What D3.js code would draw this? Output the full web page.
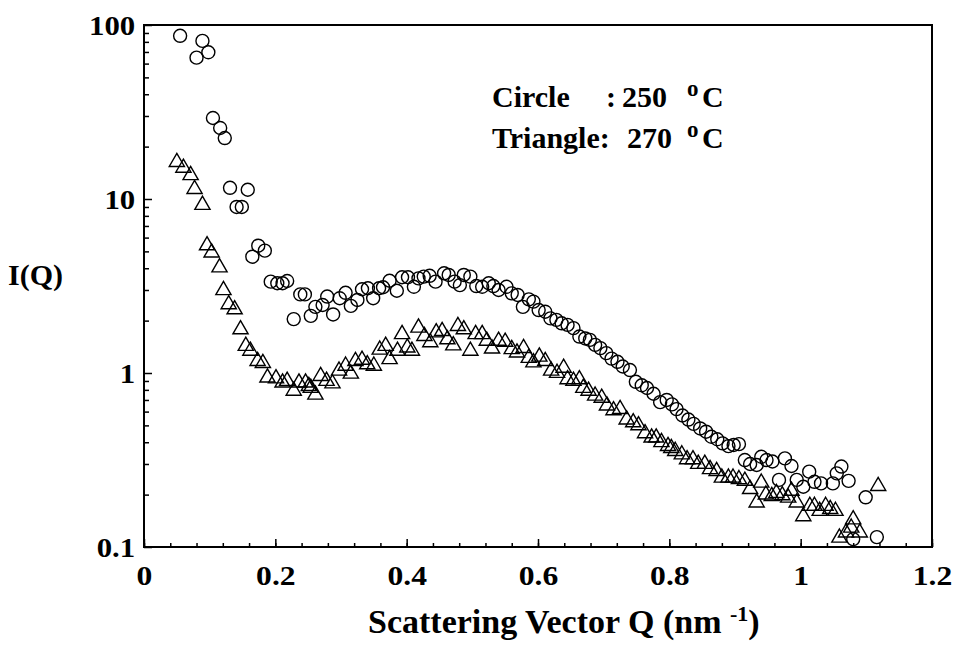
<!DOCTYPE html>
<html>
<head>
<meta charset="utf-8">
<script src="https://cdn.jsdelivr.net/npm/d3@7"></script>
<style>
  html, body { margin: 0; padding: 0; background: #fff; }
  svg { display: block; }
  text { font-family: "Liberation Serif", "Times New Roman", serif; font-weight: bold; fill: #000; }
</style>
</head>
<body>
<svg id="chart" width="953" height="646"></svg>
<script>
// Scattering intensity I(Q) at 250 °C (circles)
const circleQ = [0.055,0.080,0.089,0.098,0.105,0.116,0.123,0.131,0.141,0.149,0.158,0.165,0.174,0.184,0.193,0.203,0.211,0.218,0.228,0.238,0.245,0.254,0.261,0.272,0.279,0.288,0.298,0.307,0.315,0.325,0.332,0.341,0.349,0.358,0.364,0.374,0.385,0.393,0.402,0.411,0.418,0.426,0.435,0.444,0.457,0.464,0.473,0.481,0.487,0.497,0.506,0.515,0.525,0.532,0.540,0.552,0.560,0.569,0.577,0.586,0.593,0.601,0.611,0.619,0.628,0.636,0.645,0.654,0.663,0.672,0.679,0.687,0.695,0.704,0.712,0.721,0.729,0.740,0.749,0.758,0.766,0.776,0.786,0.796,0.804,0.811,0.820,0.829,0.837,0.847,0.856,0.864,0.873,0.881,0.890,0.898,0.906,0.915,0.923,0.933,0.940,0.948,0.957,0.967,0.976,0.986,0.994,1.004,1.013,1.021,1.031,1.049,1.055,1.062,1.073,1.080,1.099,1.116];
const circleI = [86.7,64.9,81,69.7,29.2,25.6,22.4,11.6,9.0,9.0,11.3,4.66,5.39,5.05,3.35,3.28,3.28,3.38,2.04,2.83,2.83,2.13,2.40,2.46,2.75,2.17,2.69,2.89,2.43,2.63,3.03,3.07,2.69,3.07,3.11,3.39,2.97,3.55,3.55,3.13,3.50,3.58,3.62,3.35,3.74,3.66,3.35,3.20,3.66,3.58,3.16,3.13,3.28,3.16,3.0,3.13,2.87,2.81,2.40,2.65,2.57,2.30,2.25,2.06,2.02,1.93,1.89,1.81,1.62,1.58,1.55,1.45,1.39,1.30,1.21,1.16,1.09,1.04,0.89,0.85,0.82,0.76,0.68,0.70,0.66,0.62,0.57,0.54,0.51,0.48,0.46,0.43,0.416,0.394,0.38,0.386,0.39,0.316,0.30,0.296,0.33,0.316,0.31,0.243,0.323,0.292,0.243,0.222,0.271,0.237,0.232,0.232,0.265,0.29,0.24,0.111,0.193,0.114];

// Scattering intensity I(Q) at 270 °C (triangles)
const triangleQ = [0.050,0.060,0.071,0.077,0.089,0.096,0.103,0.115,0.121,0.129,0.138,0.147,0.155,0.162,0.173,0.181,0.188,0.201,0.211,0.218,0.228,0.236,0.246,0.251,0.254,0.261,0.269,0.278,0.287,0.297,0.307,0.315,0.322,0.332,0.340,0.350,0.359,0.368,0.374,0.386,0.393,0.401,0.408,0.418,0.427,0.436,0.445,0.454,0.462,0.471,0.478,0.487,0.497,0.505,0.515,0.522,0.530,0.540,0.550,0.560,0.568,0.578,0.586,0.593,0.602,0.611,0.620,0.629,0.639,0.645,0.654,0.663,0.669,0.677,0.687,0.697,0.705,0.715,0.725,0.735,0.745,0.753,0.763,0.773,0.780,0.788,0.798,0.803,0.809,0.819,0.827,0.836,0.844,0.854,0.862,0.872,0.880,0.890,0.897,0.906,0.915,0.923,0.933,0.940,0.947,0.956,0.963,0.972,0.981,0.986,0.994,1.004,1.014,1.021,1.029,1.038,1.045,1.053,1.059,1.069,1.077,1.080,1.090,1.118];
const triangleI = [16.3,15.1,13.7,11.4,9.24,5.41,4.92,4.04,2.99,2.48,2.32,1.78,1.43,1.34,1.17,1.14,0.94,0.93,0.88,0.90,0.79,0.88,0.88,0.84,0.82,0.75,0.96,0.90,0.87,1.03,1.10,0.99,1.17,1.19,1.12,1.10,1.36,1.43,1.20,1.34,1.67,1.40,1.34,1.82,1.63,1.50,1.71,1.74,1.56,1.44,1.86,1.78,1.34,1.67,1.67,1.53,1.38,1.53,1.51,1.37,1.31,1.39,1.22,1.15,1.24,1.17,1.03,1.00,1.07,0.92,0.90,0.92,0.82,0.79,0.74,0.72,0.65,0.61,0.62,0.54,0.52,0.50,0.45,0.425,0.425,0.40,0.38,0.37,0.356,0.34,0.319,0.319,0.30,0.30,0.28,0.273,0.25,0.25,0.25,0.245,0.24,0.215,0.18,0.234,0.20,0.196,0.204,0.198,0.192,0.21,0.18,0.15,0.172,0.172,0.161,0.172,0.165,0.161,0.113,0.121,0.129,0.144,0.121,0.224];

// Axis ticks
const xTicks = [0, 0.2, 0.4, 0.6, 0.8, 1, 1.2];
const xTickLabels = ["0", "0.2", "0.4", "0.6", "0.8", "1", "1.2"];
const yTicks = [0.1, 1, 10, 100];
const yTickLabels = ["0.1", "1", "10", "100"];

// Legend entries
const legendNames = ["Circle", "Triangle:"];
const legendSeparators = [":", ""];
const legendTemps = ["250", "270"];

const svg = d3.select("#chart");
const plot = { left: 144, right: 932, top: 25, bottom: 547 };

const x = d3.scaleLinear().domain([0, 1.2]).range([plot.left, plot.right]);
const y = d3.scaleLog().domain([0.1, 100]).range([plot.bottom, plot.top]);

// Minor tick positions
const xMinor = d3.range(0, 1.2001, 0.04).map(v => +v.toFixed(2));
const yMinor = [];
[0.1, 1, 10].forEach(d => { for (let k = 2; k <= 9; k++) yMinor.push(d * k); });

// Bottom axis: major ticks pointing in, labels below
const xAxis = svg.append("g").attr("transform", `translate(0,${plot.bottom})`)
  .call(d3.axisBottom(x).tickValues(xTicks).tickSize(-8).tickPadding(30)
    .tickFormat((d, i) => xTickLabels[i]));
svg.append("g").attr("transform", `translate(0,${plot.bottom})`)
  .call(d3.axisBottom(x).tickValues(xMinor).tickSize(-4).tickFormat(""));

// Left axis
const yAxis = svg.append("g").attr("transform", `translate(${plot.left},0)`)
  .call(d3.axisLeft(y).tickValues(yTicks).tickSize(-8).tickPadding(8)
    .tickFormat(d => yTickLabels[yTicks.indexOf(d)]));
svg.append("g").attr("transform", `translate(${plot.left},0)`)
  .call(d3.axisLeft(y).tickValues(yMinor).tickSize(-5).tickFormat(""));

svg.selectAll(".domain").remove();
svg.selectAll(".tick line").attr("stroke", "#000").attr("stroke-width", 1.5);

xAxis.selectAll("text")
  .style("font-size", "28px")
  .attr("dy", "0.28em")
  .attr("transform", "scale(1.13,1)");
yAxis.selectAll("text")
  .style("font-size", "28px")
  .attr("x", -8)
  .attr("dy", "0.34em")
  .attr("transform", "scale(1.1,1)");

// Plot frame
svg.append("rect")
  .attr("x", plot.left).attr("y", plot.top)
  .attr("width", plot.right - plot.left).attr("height", plot.bottom - plot.top)
  .attr("fill", "none").attr("stroke", "#000").attr("stroke-width", 2);

// Markers
const circles = circleQ.map((q, i) => ({ q, v: circleI[i] }));
const triangles = triangleQ.map((q, i) => ({ q, v: triangleI[i] }));

svg.append("g").selectAll("path").data(triangles).join("path")
  .attr("d", d3.symbol(d3.symbolTriangle, 100))
  .attr("transform", d => `translate(${x(d.q)},${y(d.v)})`)
  .attr("fill", "none").attr("stroke", "#000").attr("stroke-width", 1.4);

svg.append("g").selectAll("circle").data(circles).join("circle")
  .attr("cx", d => x(d.q)).attr("cy", d => y(d.v)).attr("r", 6.5)
  .attr("fill", "none").attr("stroke", "#000").attr("stroke-width", 1.4);

// Legend text: name, separator, temperature, degree mark and unit
const legendRows = [107, 148];
const legendG = svg.append("g").style("font-size", "30px");
legendNames.forEach((name, i) => {
  const by = legendRows[i];
  legendG.append("text").attr("x", 492).attr("y", by).text(name);
  if (legendSeparators[i]) legendG.append("text").attr("x", 606).attr("y", by).text(legendSeparators[i]);
  legendG.append("text").attr("x", i === 0 ? 622 : 627).attr("y", by).text(legendTemps[i]);
  legendG.append("text").attr("x", 687).attr("y", by - 11).style("font-size", "23px").text("o");
  legendG.append("text").attr("x", 702).attr("y", by).text("C");
});

// Axis titles
svg.append("text").attr("x", 8).attr("y", 285).style("font-size", "30px").text("I(Q)");

const xt = svg.append("text").attr("x", 368).attr("y", 633).style("font-size", "34px")
  .attr("xml:space", "preserve");
xt.append("tspan").text("Scattering Vector Q (nm ");
xt.append("tspan").attr("dy", -12).style("font-size", "22px").text("-1");
xt.append("tspan").attr("dy", 12).text(")");
</script>
</body>
</html>
